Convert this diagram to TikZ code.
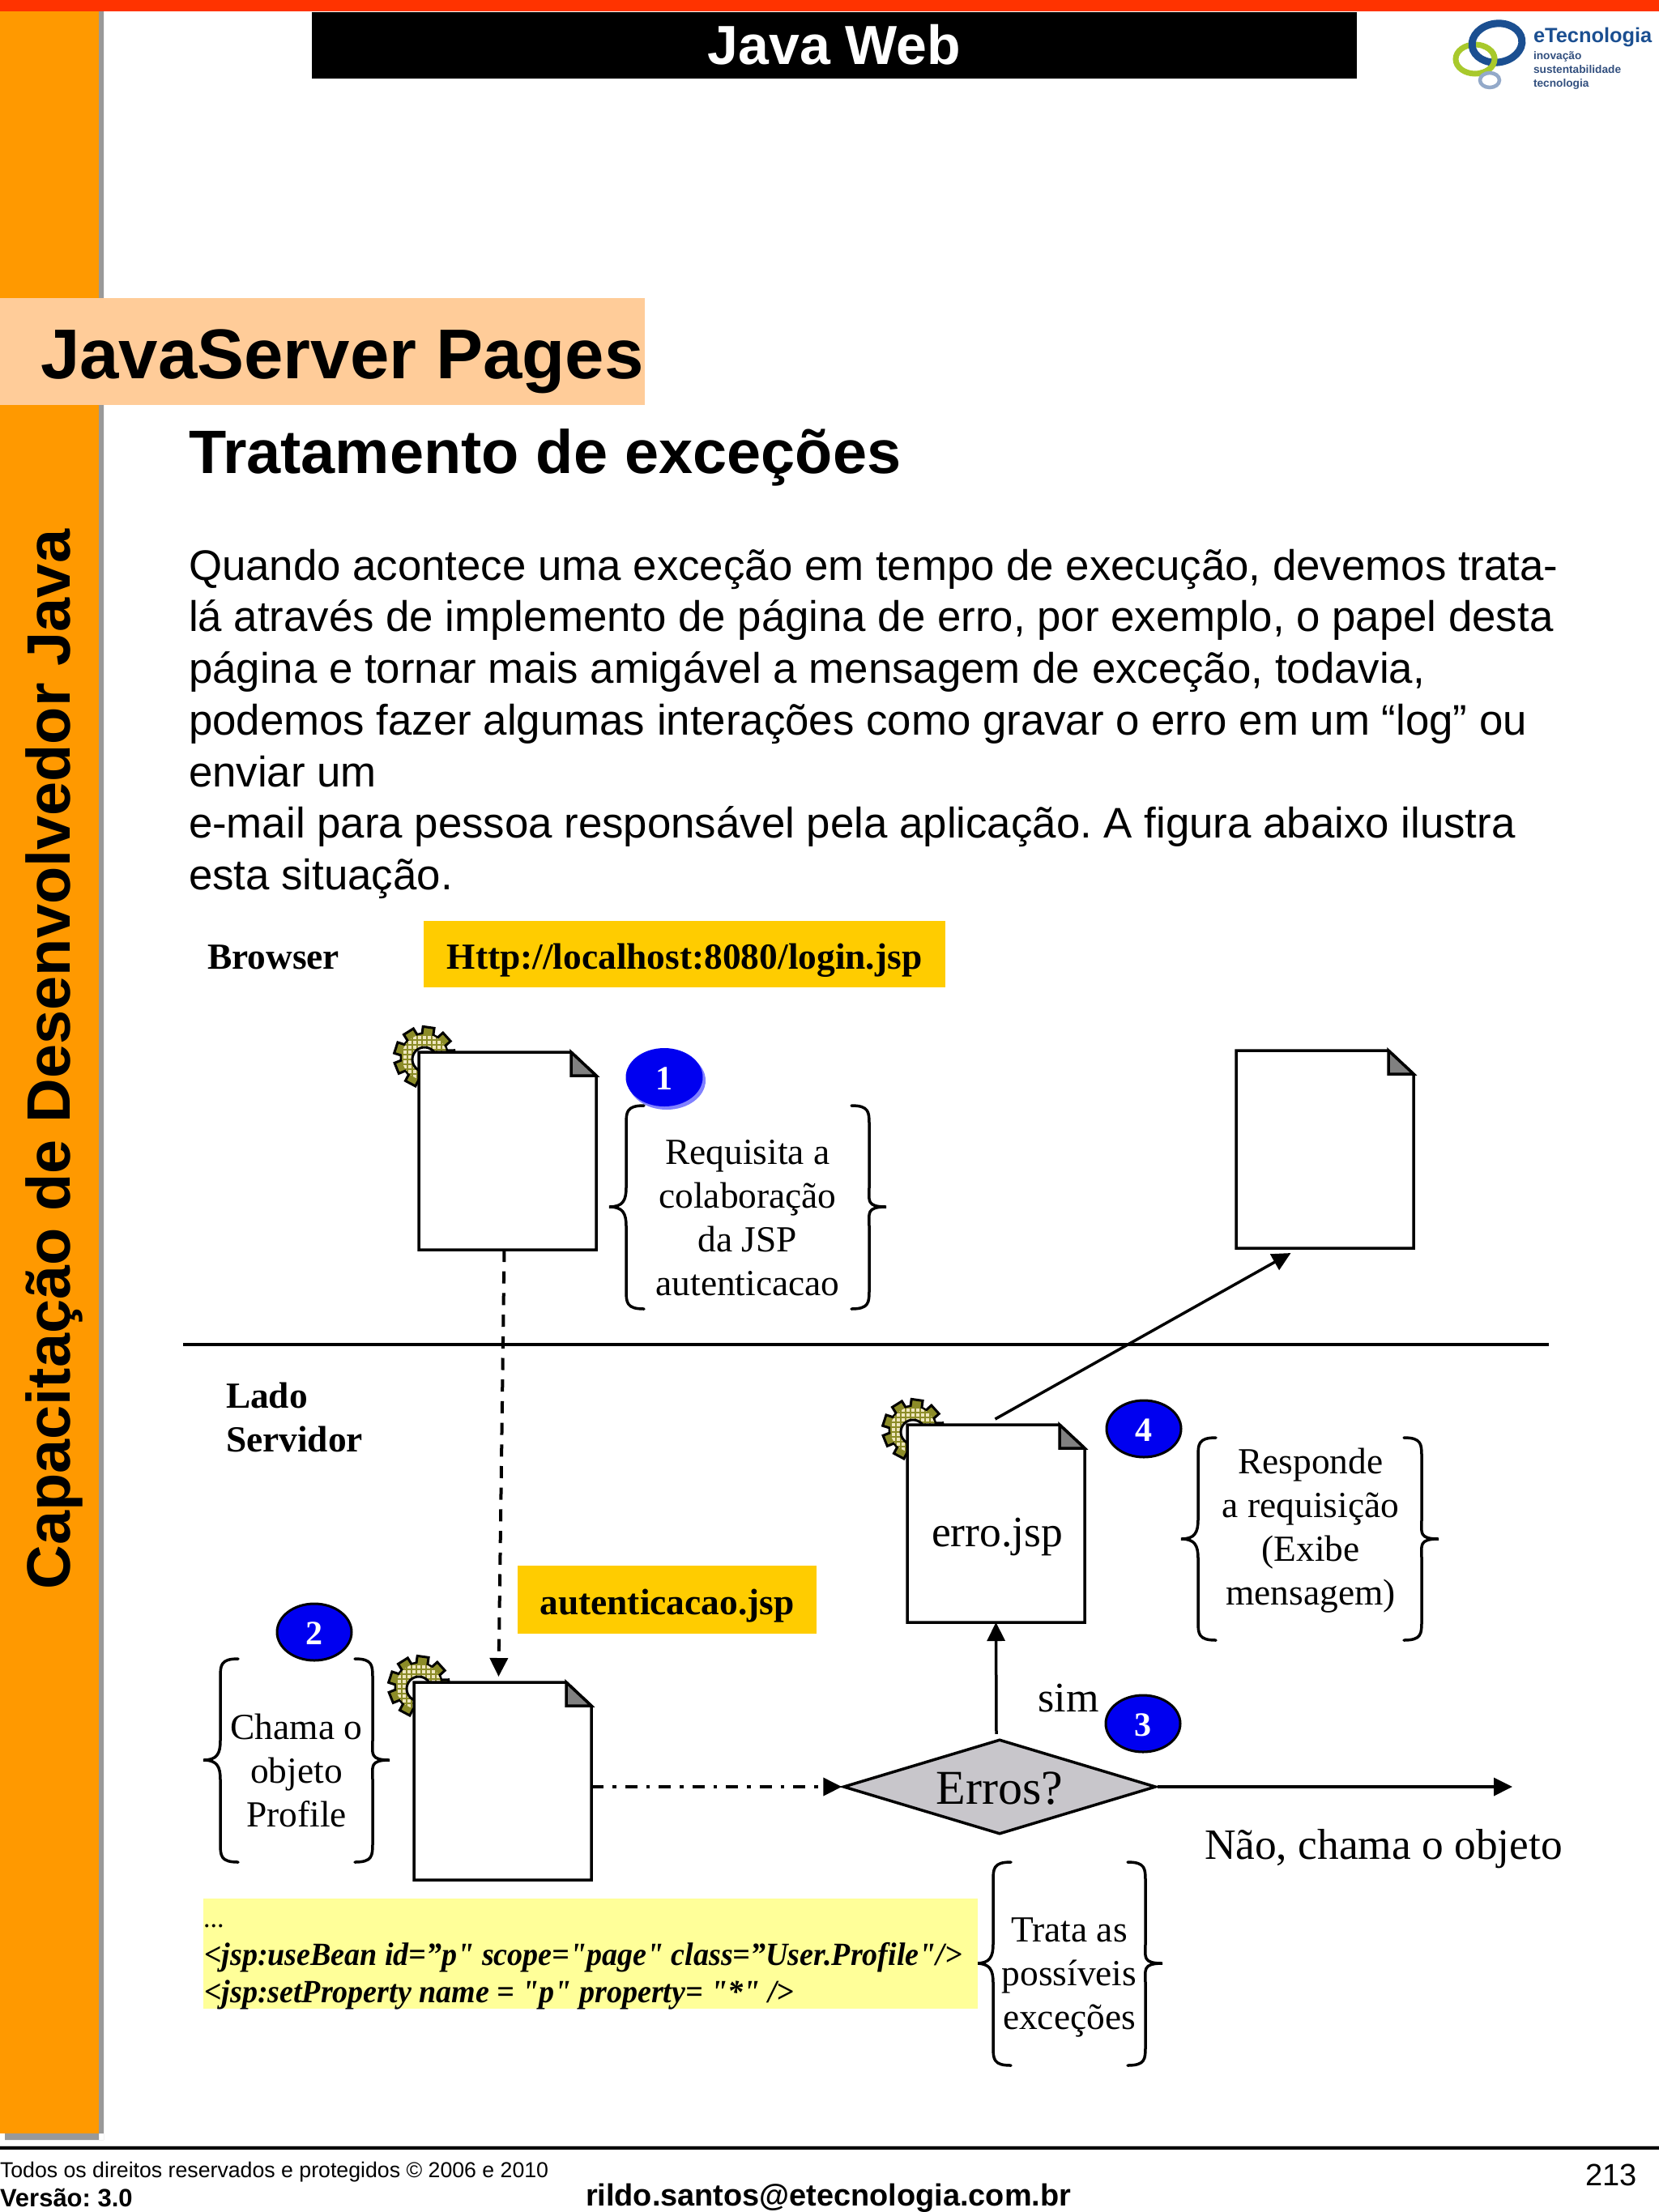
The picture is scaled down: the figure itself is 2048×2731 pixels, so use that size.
\documentclass[tikz,border=0pt]{standalone}
\usepackage{fontspec}
\setmainfont{Liberation Sans}
\newfontfamily\tms{Liberation Serif}
\usetikzlibrary{arrows.meta,calc,shapes.geometric}
\frenchspacing
\definecolor{topred}{HTML}{FF3300}
\definecolor{sideorange}{HTML}{FF9900}
\definecolor{bannerpeach}{HTML}{FFCC99}
\definecolor{labelgold}{HTML}{FFCC00}
\definecolor{codeyellow}{HTML}{FFFF99}
\definecolor{badgeblue}{HTML}{0000F0}
\definecolor{diamondgray}{HTML}{C8C6CB}
\definecolor{gearolive}{HTML}{8C8C28}
\definecolor{gearcream}{HTML}{EFE6BE}
\definecolor{logoblue}{HTML}{1B4F91}
\definecolor{logogreen}{HTML}{A8C92C}
\definecolor{logogray}{HTML}{93A9C9}
\definecolor{logotext}{HTML}{33507F}
\newcommand{\fsz}[1]{\fontsize{#1}{#1}\selectfont}
\newcommand{\flh}[2]{\fontsize{#1}{#2}\selectfont}
\newcommand{\lowered}[2]{\raisebox{-#1pt}[0pt][0pt]{#2}}
\tikzset{
  x=1pt,y=-1pt,
  txt/.style={inner sep=0pt,outer sep=0pt},
  labelbox/.style={fill=labelgold,inner sep=0pt,font=\tms\bfseries\fsz{45.4}},
  docbox/.style={fill=white,minimum width=219pt,minimum height=244pt,inner sep=0pt,outer sep=0pt,font=\tms\fsz{53.5}},
  note/.style={txt,align=center,font=\tms\flh{45.4}{54}},
  badge/.style={ellipse,fill=badgeblue,draw=black,line width=3pt,minimum width=92pt,minimum height=70pt,inner sep=0pt,text=white,font=\tms\bfseries\fsz{42}},
  lnk/.style={line width=3.5pt,-{Triangle[length=23pt,width=22pt]}},
  brc/.style={line width=3.5pt,line cap=round}
}
\newcommand{\gearat}[2]{%
  \begin{scope}[shift={(#1,#2)}]
    \filldraw[gearolive,draw=black,line width=3pt] (0,0) circle (29);
    \foreach \a in {0,40,...,320}{
      \filldraw[gearolive,draw=black,line width=3pt,rotate=\a+12] (-7,20) rectangle (7,37);
    }
    \fill[gearolive] (0,0) circle (28);
    \begin{scope}
      \clip (0,0) circle (28);
      \foreach \i in {-30,-24,...,30}{\foreach \j in {-30,-24,...,30}{
        \fill[gearcream] (\i-1.8,\j-1.8) rectangle (\i+1.8,\j+1.8);}}
    \end{scope}
    \filldraw[white,draw=black,line width=3pt] (0,3) circle (15);
  \end{scope}}
\newcommand{\docpage}[4]{%
  \node[docbox] (#1) at (#2+109.5,#3+122) {#4};
  \draw[line width=3.5pt,line join=miter] (#1.north west) -- ($(#1.north east)+(-31,0)$) -- ($(#1.north east)+(0,29)$) -- (#1.south east) -- (#1.south west) -- cycle;
  \filldraw[fill=gray,draw=black,line width=3.5pt,line join=miter] ($(#1.north east)+(-31,0)$) -- ($(#1.north east)+(0,29)$) -- ($(#1.north east)+(-31,29)$) -- cycle;}
% tip x, vertical x, top, mid, bottom, hook x
\newcommand{\leftbrace}[6]{%
  \draw[brc] (#6,#3) .. controls (#2,#3) and (#2,#3+8) .. (#2,#3+24) -- (#2,#4-24) .. controls (#2,#4-8) and (#2-4,#4) .. (#1,#4) .. controls (#2-4,#4) and (#2,#4+8) .. (#2,#4+24) -- (#2,#5-24) .. controls (#2,#5-8) and (#2,#5) .. (#6,#5);}
\begin{document}
\begin{tikzpicture}
\useasboundingbox (0,0) rectangle (2048,2731);
\fill[white] (0,0) rectangle (2048,2731);
% frame
\fill[gray!80] (128,14) rectangle (122,2642) (6,2634) rectangle (128,2642);
\fill[sideorange] (0,14) rectangle (122,2634);
\fill[topred] (0,0) rectangle (2048,14);
\fill[black] (0,2650) rectangle (2048,2653.5);
\fill[gray!40] (0,2649) rectangle (2048,2650);
\node[fill=black,minimum width=1290pt,minimum height=82pt,inner sep=0pt,text=white,font=\bfseries\fsz{68}] (title) at (1030,55.5) {\lowered{24}{Java Web}};
\node[fill=bannerpeach,minimum width=796pt,minimum height=132pt,inner sep=0pt] (banner) at (398,434) {};
\node[txt,anchor=base west,font=\bfseries\fsz{87}] (jsp) at (50,467) {JavaServer Pages};
\node[txt,anchor=base west,font=\bfseries\fsz{75.7}] (heading) at (233,584) {Tratamento de exceções};
\node[txt,rotate=90,font=\bfseries\fsz{75.7},anchor=base] (side) at (86,1308) {Capacitação de Desenvolvedor Java};
% paragraph
\node[txt,anchor=north west,align=left,font=\flh{52.8}{63.7}] (para) at (233,678) {Quando acontece uma exceção em tempo de execução, devemos trata-\\
lá através de implemento de página de erro, por exemplo, o papel desta\\
página e tornar mais amigável a mensagem de exceção, todavia,\\
podemos fazer algumas interações como gravar o erro em um “log” ou\\
enviar um\\
e-mail para pessoa responsável pela aplicação. A figura abaixo ilustra\\
esta situação.};
% logo
\draw[logogreen,line width=7pt] (1821,73) ellipse (24 and 18);
\draw[logoblue,line width=9pt,rotate around={8:(1848,53)}] (1848,53) ellipse (31 and 24);
\begin{scope}
  \clip (1825,60) rectangle (1860,100);
  \draw[logogreen,line width=7pt] (1821,73) ellipse (24 and 18);
\end{scope}
\draw[logogray,line width=4.5pt] (1839,99) ellipse (12 and 9);
\node[txt,anchor=base west,text=logoblue,font=\bfseries\fsz{25.4}] (lg1) at (1893,52) {eTecnologia};
\node[txt,anchor=base west,text=logotext,font=\bfseries\fsz{13.7}] (lg2) at (1893,73) {inovação};
\node[txt,anchor=base west,text=logotext,font=\bfseries\fsz{13.7}] (lg3) at (1893,90) {sustentabilidade};
\node[txt,anchor=base west,text=logotext,font=\bfseries\fsz{13.7}] (lg4) at (1893,107) {tecnologia};
% browser
\node[txt,anchor=base west,font=\tms\bfseries\fsz{45.4}] (browser) at (256,1196) {Browser};
\node[labelbox,minimum width=644pt,minimum height=82pt] (url) at (845,1178) {\lowered{18}{Http://localhost:8080/login.jsp}};
% server side divider
\draw[line width=3.5pt] (226,1660) -- (1912,1660);
\node[txt,anchor=north west,align=left,font=\tms\bfseries\flh{45.4}{54}] (lado) at (279,1707) {Lado\\Servidor};
\node[labelbox,minimum width=369pt,minimum height=84pt] (authlabel) at (823.5,1975) {\lowered{18}{autenticacao.jsp}};
% pages
\gearat{524}{1305}
\docpage{p1}{517}{1299}{}
\docpage{p2}{1526}{1297}{}
\gearat{1127}{1765}
\docpage{p3}{1120}{1759}{\lowered{28}{\hspace{3pt}erro.jsp}}
\gearat{517}{2082}
\docpage{p4}{511}{2077}{}
% diamond
\node[diamond,fill=diamondgray,draw=black,line width=3.5pt,minimum width=386pt,minimum height=117pt,inner sep=0pt,aspect=3.3,font=\tms\fsz{60}] (erros) at (1234,2206) {\lowered{21}{Erros?}};
\coordinate (endline) at (1867,2206);
% connectors
\draw[lnk,dash pattern=on 15pt off 11.7pt,line width=4pt] ($(p1.south)+(-4,0)$) -- ($(p4.north)+(-5,-7)$);
\draw[lnk,dash pattern=on 15pt off 11pt on 4.5pt off 11pt,line width=4pt] (p4.east |- erros.west) -- (erros.west);
\draw[lnk] (erros.east) -- (endline);
\draw[lnk] ($(erros.north)+(-4,-5)$) -- (p3.south);
\draw[lnk] ($(p3.north)+(-1,-7)$) -- ($(p2.south)+(-42,6)$);
% badges
\fill[blue!50] (823,1334) ellipse (48 and 36);
\node[badge,draw=none,minimum width=95pt,minimum height=72pt] (b1) at (820,1330) {\lowered{15}{1}};
\node[badge] (b2) at (388,2015) {\lowered{15}{2}};
\node[badge] (b3) at (1411,2128) {\lowered{15}{3}};
\node[badge] (b4) at (1412,1764) {\lowered{15}{4}};
% braces and notes
\leftbrace{752}{773}{1365}{1490}{1616}{795}
\leftbrace{1094}{1073}{1365}{1490}{1616}{1051}
\node[note] (n1) at (923,1504) {Requisita a\\colaboração\\da JSP\\autenticacao};
\leftbrace{1458}{1479}{1775}{1900}{2025}{1501}
\leftbrace{1776}{1755}{1775}{1900}{2025}{1733}
\node[note] (n4) at (1618,1889.5) {Responde\\a requisição\\(Exibe\\mensagem)};
\leftbrace{251}{272}{2048}{2173}{2299}{294}
\leftbrace{481}{460}{2048}{2173}{2299}{438}
\node[note] (n2) at (366,2186) {Chama o\\objeto\\Profile};
\leftbrace{1205}{1226}{2299}{2424}{2550}{1248}
\leftbrace{1435}{1414}{2299}{2424}{2550}{1392}
\node[note] (n3) at (1320,2441) {Trata as\\possíveis\\exceções};
\node[txt,font=\tms\fsz{52}] (sim) at (1319,2097) {sim};
\node[txt,anchor=base west,font=\tms\fsz{53.4}] (nao) at (1487,2295) {Não, chama o objeto};
% code
\node[fill=codeyellow,minimum width=956pt,minimum height=136pt,inner sep=0pt] (codebg) at (729,2412) {};
\node[txt,anchor=base west,font=\tms\fsz{34}] (c0) at (251,2379) {...};
\node[txt,anchor=base west,font=\tms\bfseries\itshape\fsz{40}] (c1) at (252,2426) {\scalebox{0.95}[1]{<jsp:useBean id=”p" scope="page" class=”User.Profile"/>}};
\node[txt,anchor=base west,font=\tms\bfseries\itshape\fsz{40}] (c2) at (252,2472) {\scalebox{0.95}[1]{<jsp:setProperty name = "p" property= "*" />}};
% footer
\node[txt,anchor=base west,font=\fsz{26.7}] (f1) at (0,2688) {Todos os direitos reservados e protegidos © 2006 e 2010};
\node[txt,anchor=base west,font=\bfseries\fsz{31}] (f2) at (0,2724) {Versão: 3.0};
\node[txt,anchor=base west,font=\bfseries\fsz{37.9}] (f3) at (723,2723) {rildo.santos@etecnologia.com.br};
\node[txt,anchor=base west,font=\fsz{38}] (f4) at (1957,2698) {213};
\end{tikzpicture}
\end{document}
